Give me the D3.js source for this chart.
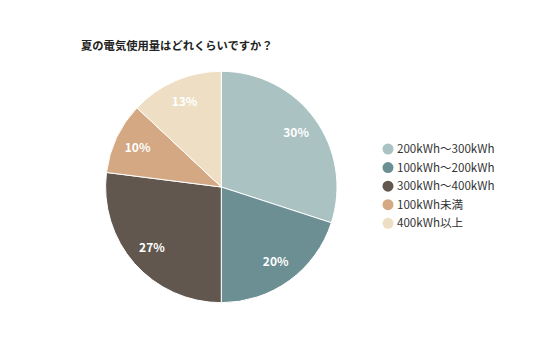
<!DOCTYPE html>
<html><head><meta charset="utf-8">
<script src="https://cdn.jsdelivr.net/npm/d3@7"></script>
<style>body{margin:0;background:#fff}</style>
</head><body>
<svg id="c" width="536" height="357"></svg>
<script>
const title = "夏の電気使用量はどれくらいですか？";
const categories = ["200kWh～300kWh","100kWh～200kWh","300kWh～400kWh","100kWh未満","400kWh以上"];
const values = [30,20,27,10,13];
const colors = ["#aac2c2","#6c8f94","#62574e","#d3a882","#eedfc4"];

const svg = d3.select("#c");
const font = "'Noto Sans CJK JP','Noto Sans',sans-serif";
svg.append("rect").attr("width",536).attr("height",357).attr("fill","#fff");
svg.append("text").attr("x",81).attr("y",50).text(title)
  .attr("font-family",font).attr("font-size",11.3).attr("font-weight","bold").attr("fill","#222");

const cx=221.3, cy=187, R=115.7;
const pie = d3.pie().sort(null).value(d=>d.v);
const data = pie(categories.map((c,i)=>({c,v:values[i],col:colors[i]})));
const arc = d3.arc().innerRadius(0).outerRadius(R);
const lab = d3.arc().innerRadius(92.5).outerRadius(92.5);
const g = svg.append("g").attr("transform",`translate(${cx},${cy})`);
g.selectAll("path").data(data).join("path").attr("d",arc)
  .attr("fill",d=>d.data.col).attr("stroke","#fff").attr("stroke-width",1);
g.selectAll("text").data(data).join("text")
  .attr("transform",d=>`translate(${lab.centroid(d)})`)
  .attr("text-anchor","middle").attr("dy","0.35em")
  .attr("font-family",font).attr("font-size",12).attr("font-weight","bold").attr("fill","#fff")
  .text(d=>d.data.v+"%");

const y = d3.scalePoint().domain(categories).range([149,223.3]);
const lg = svg.append("g");
lg.selectAll("circle").data(categories).join("circle")
  .attr("cx",388).attr("cy",d=>y(d)).attr("r",5.5).attr("fill",(d,i)=>colors[i]);
lg.selectAll("text").data(categories).join("text")
  .attr("x",397).attr("y",d=>y(d)).attr("dy","0.35em")
  .attr("font-family",font).attr("font-size",11.6).attr("fill","#333").text(d=>d);
</script>
</body></html>
